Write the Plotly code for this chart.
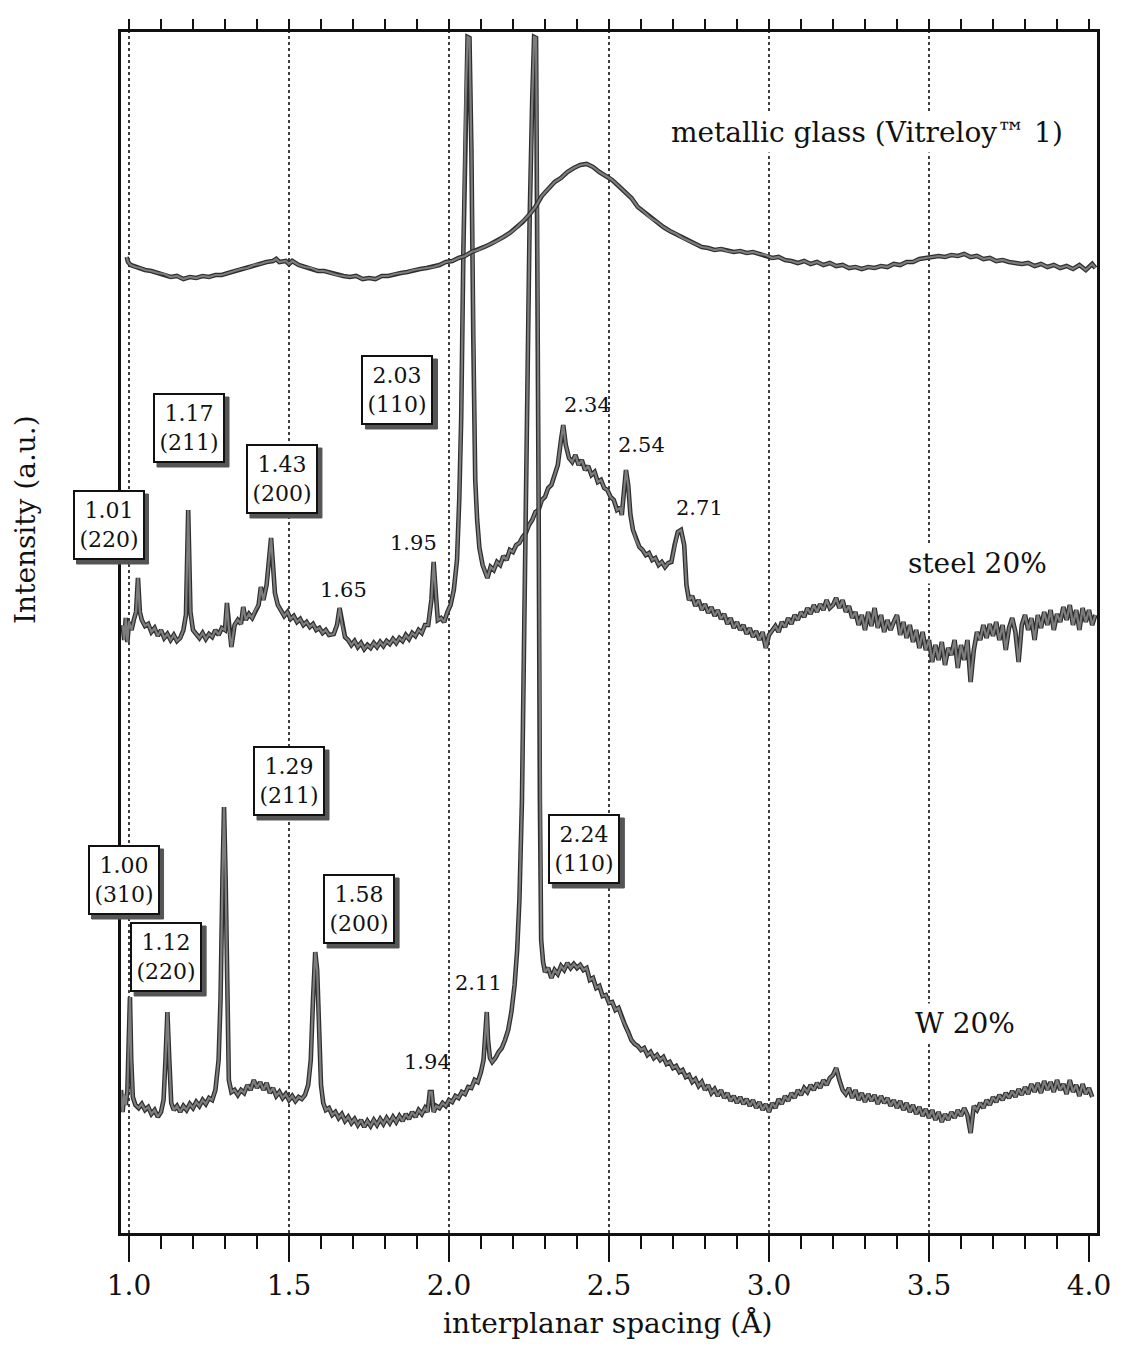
import plotly.graph_objects as go

# ---------------- data ----------------
glass_d = [0.993,0.997,1.005,1.02,1.035,1.05,1.07,1.09,1.11,1.13,1.15,1.17,1.19,1.21,1.23,1.25,1.27,1.29,1.31,1.33,
           1.35,1.37,1.39,1.41,1.43,1.45,1.46,1.47,1.49,1.50,1.51,1.53,1.55,1.57,1.59,1.61,1.63,1.65,1.67,1.69,
           1.71,1.73,1.75,1.77,1.79,1.81,1.83,1.85,1.87,1.89,1.91,1.93,1.95,1.97,1.99,2.01,2.03,2.05,2.07,2.09,
           2.11,2.13,2.15,2.17,2.19,2.21,2.23,2.25,2.27,2.29,2.31,2.33,2.35,2.37,2.39,2.41,2.43,2.45,2.47,2.49,
           2.51,2.53,2.55,2.57,2.59,2.61,2.63,2.65,2.67,2.69,2.71,2.73,2.75,2.77,2.79,2.81,2.83,2.85,2.87,2.89,
           2.91,2.93,2.95,2.97,2.99,3.01,3.03,3.05,3.07,3.09,3.11,3.13,3.15,3.17,3.19,3.21,3.23,3.25,3.27,3.29,
           3.31,3.33,3.35,3.37,3.39,3.41,3.43,3.45,3.47,3.49,3.51,3.53,3.55,3.57,3.59,3.61,3.63,3.65,3.67,3.69,
           3.71,3.73,3.75,3.77,3.79,3.81,3.83,3.85,3.87,3.89,3.91,3.93,3.95,3.97,3.99,4.01,4.02]
glass_i = [976,971,968,966,965,963,962,960,959,956,957,954,956,955,957,956,958,958,960,962,
           964,965,968,969,971,972,974,971,972,969,972,968,966,965,962,962,960,958,957,956,
           957,954,955,954,957,957,959,960,961,963,964,965,966,968,971,972,975,977,981,983,
           986,989,992,996,1000,1005,1011,1018,1026,1037,1044,1051,1055,1061,1065,1068,1069,1066,1061,1057,
           1053,1047,1041,1035,1026,1021,1015,1011,1006,1002,999,995,992,989,986,985,983,984,982,981,
           982,980,981,979,978,975,976,973,972,970,972,969,971,968,970,967,968,965,966,964,
           966,965,967,966,969,968,971,971,974,975,976,977,976,978,977,979,976,977,974,975,
           972,973,971,970,969,970,967,969,966,968,965,967,964,968,963,969,965]

steel_d = [0.980,0.985,0.990,0.995,1.000,1.008,1.015,1.022,1.028,1.034,1.040,1.050,1.060,1.070,1.080,1.090,1.100,1.110,1.120,1.130,
           1.140,1.150,1.160,1.170,1.178,1.185,1.192,1.200,1.210,1.220,1.230,1.240,1.250,1.260,1.270,1.280,1.290,1.300,1.306,1.312,
           1.320,1.330,1.340,1.350,1.357,1.365,1.375,1.385,1.395,1.405,1.412,1.420,1.430,1.438,1.444,1.450,1.456,1.465,1.475,1.485,
           1.495,1.505,1.515,1.525,1.535,1.545,1.555,1.565,1.575,1.585,1.595,1.605,1.615,1.625,1.640,1.650,1.658,1.666,1.675,1.685,
           1.695,1.705,1.715,1.725,1.735,1.745,1.755,1.765,1.775,1.785,1.795,1.805,1.815,1.825,1.835,1.845,1.855,1.865,1.875,1.885,
           1.895,1.905,1.915,1.925,1.935,1.945,1.952,1.958,1.965,1.975,1.985,1.995,2.005,2.015,2.025,2.032,2.038,2.045,2.052,2.058,
           2.064,2.070,2.076,2.082,2.088,2.095,2.105,2.112,2.120,2.130,2.140,2.150,2.160,2.170,2.180,2.190,2.200,2.210,2.220,2.230,
           2.240,2.250,2.260,2.270,2.280,2.290,2.300,2.310,2.320,2.330,2.340,2.350,2.357,2.365,2.375,2.385,2.395,2.405,2.415,2.425,
           2.435,2.445,2.455,2.465,2.475,2.485,2.495,2.505,2.515,2.525,2.535,2.540,2.547,2.553,2.560,2.567,2.575,2.585,2.595,2.605,
           2.615,2.625,2.635,2.645,2.655,2.665,2.675,2.685,2.695,2.705,2.715,2.725,2.735,2.742,2.750,2.760,2.770,2.780,2.790,2.800,
           2.810,2.820,2.830,2.840,2.850,2.860,2.870,2.880,2.890,2.900,2.910,2.920,2.930,2.940,2.950,2.960,2.970,2.980,2.990,3.000,
           3.010,3.020,3.030,3.040,3.050,3.060,3.070,3.080,3.090,3.100,3.110,3.120,3.130,3.140,3.150,3.160,3.170,3.180,3.190,3.200,
           3.210,3.220,3.230,3.240,3.250,3.260,3.270,3.280,3.290,3.300,3.310,3.320,3.330,3.340,3.350,3.360,3.370,3.380,3.390,3.400,
           3.410,3.420,3.430,3.440,3.450,3.460,3.470,3.480,3.490,3.500,3.510,3.520,3.530,3.540,3.550,3.560,3.570,3.580,3.590,3.600,
           3.610,3.620,3.630,3.640,3.650,3.660,3.670,3.680,3.690,3.700,3.710,3.720,3.730,3.740,3.750,3.760,3.770,3.780,3.790,3.800,
           3.810,3.820,3.830,3.840,3.850,3.860,3.870,3.880,3.890,3.900,3.910,3.920,3.930,3.940,3.950,3.960,3.970,3.980,3.990,4.000,
           4.010,4.020]
steel_i = [608,593,615,591,611,603,613,621,655,621,613,607,609,601,605,597,603,595,599,593,
           598,592,595,603,618,723,621,603,599,595,600,594,599,596,603,598,605,603,630,605,
           586,608,613,609,626,613,619,615,623,628,646,633,648,673,695,668,640,628,623,617,
           621,614,617,611,614,608,611,606,609,603,605,600,603,598,599,608,625,608,596,593,
           588,592,586,590,584,588,585,590,586,591,587,592,589,594,590,595,592,598,594,600,
           597,603,600,608,608,633,671,643,613,615,611,621,628,643,673,733,813,983,1133,1196,
           1195,1083,893,753,713,685,668,661,655,666,663,671,668,677,673,683,681,688,690,696,
           700,708,713,721,723,733,736,745,748,758,768,793,808,788,775,771,778,768,773,763,
           767,758,761,751,753,745,743,736,733,723,725,718,743,763,748,718,703,693,686,683,
           678,680,673,675,668,671,666,670,671,688,701,703,688,648,633,637,627,633,623,629,
           620,626,617,623,614,619,609,615,605,611,603,608,599,605,596,602,593,601,585,598,
           603,607,601,611,606,615,609,618,613,621,616,625,619,628,621,629,623,633,625,628,
           635,625,633,621,627,615,621,608,618,603,621,607,625,605,618,601,613,603,611,618,
           598,611,595,608,591,603,585,601,583,593,571,588,573,591,568,585,578,593,565,588,
           573,593,551,583,601,593,608,595,609,597,611,593,608,583,605,615,601,571,608,618,
           603,615,593,618,605,621,608,623,603,619,611,626,613,628,608,623,603,625,611,623,
           608,618]

w_d = [0.975,0.980,0.985,0.990,0.995,1.000,1.003,1.007,1.012,1.020,1.030,1.040,1.050,1.060,1.070,1.080,1.090,1.100,1.108,1.114,
       1.120,1.126,1.132,1.140,1.150,1.160,1.170,1.180,1.190,1.200,1.210,1.220,1.230,1.240,1.250,1.260,1.270,1.280,1.286,1.292,
       1.297,1.302,1.307,1.312,1.320,1.330,1.340,1.350,1.360,1.370,1.380,1.390,1.400,1.410,1.420,1.430,1.440,1.450,1.460,1.470,
       1.480,1.490,1.500,1.510,1.520,1.530,1.540,1.550,1.560,1.568,1.575,1.582,1.588,1.594,1.600,1.607,1.615,1.625,1.635,1.645,
       1.655,1.665,1.675,1.685,1.695,1.705,1.715,1.725,1.735,1.745,1.755,1.765,1.775,1.785,1.795,1.805,1.815,1.825,1.835,1.845,
       1.855,1.865,1.875,1.885,1.895,1.905,1.915,1.925,1.933,1.940,1.946,1.952,1.960,1.970,1.980,1.990,2.000,2.010,2.020,2.030,
       2.040,2.050,2.060,2.070,2.080,2.090,2.100,2.108,2.114,2.118,2.122,2.128,2.135,2.145,2.155,2.165,2.175,2.185,2.195,2.205,
       2.213,2.220,2.228,2.236,2.244,2.252,2.260,2.266,2.272,2.276,2.280,2.284,2.288,2.294,2.300,2.310,2.320,2.330,2.340,2.350,
       2.360,2.370,2.380,2.390,2.400,2.410,2.420,2.430,2.440,2.450,2.460,2.470,2.480,2.490,2.500,2.510,2.520,2.530,2.540,2.550,
       2.560,2.570,2.580,2.590,2.600,2.610,2.620,2.630,2.640,2.650,2.660,2.670,2.680,2.690,2.700,2.710,2.720,2.730,2.740,2.750,
       2.760,2.770,2.780,2.790,2.800,2.810,2.820,2.830,2.840,2.850,2.860,2.870,2.880,2.890,2.900,2.910,2.920,2.930,2.940,2.950,
       2.960,2.970,2.980,2.990,3.000,3.010,3.020,3.030,3.040,3.050,3.060,3.070,3.080,3.090,3.100,3.110,3.120,3.130,3.140,3.150,
       3.160,3.170,3.180,3.190,3.200,3.210,3.220,3.230,3.240,3.250,3.260,3.270,3.280,3.290,3.300,3.310,3.320,3.330,3.340,3.350,
       3.360,3.370,3.380,3.390,3.400,3.410,3.420,3.430,3.440,3.450,3.460,3.470,3.480,3.490,3.500,3.510,3.520,3.530,3.540,3.550,
       3.560,3.570,3.580,3.590,3.600,3.610,3.620,3.630,3.640,3.650,3.660,3.670,3.680,3.690,3.700,3.710,3.720,3.730,3.740,3.750,
       3.760,3.770,3.780,3.790,3.800,3.810,3.820,3.830,3.840,3.850,3.860,3.870,3.880,3.890,3.900,3.910,3.920,3.930,3.940,3.950,
       3.960,3.970,3.980,3.990,4.000,4.010]
w_i = [143,121,138,128,143,193,236,173,136,128,125,129,123,126,119,123,116,121,133,173,
       221,173,130,123,127,121,127,123,129,125,131,127,133,129,135,133,143,173,233,353,
       426,353,233,153,141,143,138,143,140,148,143,153,145,151,143,150,140,145,137,141,
       135,139,133,137,132,136,134,138,148,173,233,281,263,203,148,130,123,125,118,121,
       115,119,112,116,110,114,108,113,106,112,107,113,108,114,109,115,110,116,111,117,
       112,119,114,121,116,123,119,125,121,141,141,121,127,125,130,127,133,131,137,135,
       141,139,146,145,153,151,161,173,203,221,193,175,171,175,181,185,193,203,221,248,
       283,333,433,633,833,1013,1133,1196,1195,1033,733,433,293,271,261,265,255,263,259,267,
       263,270,265,269,265,268,263,265,253,255,245,247,237,238,230,231,223,225,215,208,
       201,193,189,187,183,185,178,181,175,178,173,176,169,171,165,167,161,163,156,158,
       151,154,147,151,143,148,140,144,137,143,135,140,132,137,130,136,129,134,127,133,
       125,131,123,129,121,130,125,134,129,137,132,140,135,143,138,145,141,148,143,150,
       145,153,148,155,158,165,153,143,139,145,135,143,133,140,131,139,132,138,129,137,
       130,135,127,133,125,132,123,130,121,128,119,126,117,124,115,123,113,121,111,119,
       113,121,115,123,117,125,118,100,127,123,130,125,133,128,136,131,138,133,140,135,
       142,136,144,138,146,139,149,141,150,140,152,143,151,141,153,143,149,139,153,141,
       148,137,149,139,145,136]

tick_vals = [1.0, 1.5, 2.0, 2.5, 3.0, 3.5, 4.0]
tick_text = ["1.0", "1.5", "2.0", "2.5", "3.0", "3.5", "4.0"]
grid_vals = [1.0, 1.5, 2.0, 2.5, 3.0, 3.5]

# boxed peak labels: (d, intensity, text)
box_labels = [
    (1.839, 843, "2.03<br>(110)"),
    (1.1875, 805, "1.17<br>(211)"),
    (1.478, 754, "1.43<br>(200)"),
    (0.936, 708, "1.01<br>(220)"),
    (1.500, 452, "1.29<br>(211)"),
    (0.983, 353, "1.00<br>(310)"),
    (1.116, 276, "1.12<br>(220)"),
    (1.719, 324, "1.58<br>(200)"),
    (2.423, 384, "2.24<br>(110)"),
]
plain_labels = [
    (2.434, 828, "2.34"),
    (2.603, 788, "2.54"),
    (2.784, 725, "2.71"),
    (1.8875, 690, "1.95"),
    (1.669, 643, "1.65"),
    (1.934, 171, "1.94"),
    (2.091, 250, "2.11"),
]
series_labels = [
    (3.306, 1101, "metallic glass (Vitreloy™ 1)"),
    (3.650, 670, "steel 20%"),
    (3.6125, 210, "W 20%"),
]

# ---------------- figure ----------------
FONT = "DejaVu Serif"
INK = "#111111"
XR = [0.975, 4.025]
YR = [0, 1201]

def px(d):
    return (d - XR[0]) / (XR[1] - XR[0])

def py(v):
    return (v - YR[0]) / (YR[1] - YR[0])

fig = go.Figure()

def add_series(xs, ys, xaxis="x"):
    fig.add_trace(go.Scatter(x=xs, y=ys, mode="lines", xaxis=xaxis,
                             line=dict(color="#2e2e2e", width=4.6), hoverinfo="skip", showlegend=False))
    fig.add_trace(go.Scatter(x=xs, y=ys, mode="lines", xaxis=xaxis,
                             line=dict(color="#7d7d7d", width=2.2), hoverinfo="skip", showlegend=False))

add_series(glass_d, glass_i, "x2")
add_series(steel_d, steel_i)
add_series(w_d, w_i)

for g in grid_vals:
    fig.add_shape(type="line", x0=g, x1=g, y0=0, y1=1, xref="x", yref="paper",
                  line=dict(color=INK, width=1.6, dash="dot"), layer="below")

BW, BH = 60, 58   # inner text area of the boxes (px)
PAD, BRD = 4, 2
HW = BW / 2 + PAD + BRD
HH = BH / 2 + PAD + BRD
SH = 4
for (xd, yi, t) in box_labels:
    fig.add_shape(type="rect", xref="paper", yref="paper",
                  xsizemode="pixel", ysizemode="pixel", xanchor=px(xd), yanchor=py(yi),
                  x0=-HW + SH, x1=HW + SH, y0=-HH - SH, y1=HH - SH,
                  fillcolor="#555555", line=dict(color="#555555", width=1), layer="above")
    fig.add_annotation(x=px(xd), y=py(yi), text=t, showarrow=False, xref="paper", yref="paper",
                       xanchor="center", yanchor="middle", width=BW, height=BH,
                       font=dict(family=FONT, size=22, color=INK),
                       bgcolor="white", bordercolor=INK, borderwidth=BRD, borderpad=PAD)

for (xd, yi, t) in plain_labels:
    fig.add_annotation(x=xd, y=yi, text=t, showarrow=False, xref="x", yref="y",
                       font=dict(family=FONT, size=21, color=INK))

for (xd, yi, t) in series_labels:
    fig.add_annotation(x=xd, y=yi, text=t, showarrow=False, xref="x", yref="y",
                       font=dict(family=FONT, size=28, color=INK), bgcolor="white", borderpad=3)

fig.add_annotation(x=-0.098, y=0.594, xref="paper", yref="paper", text="Intensity (a.u.)",
                   textangle=-90, showarrow=False, xanchor="center", yanchor="middle",
                   font=dict(family=FONT, size=28, color=INK))
fig.add_annotation(x=0.498, y=-0.075, xref="paper", yref="paper", text="interplanar spacing (Å)",
                   showarrow=False, xanchor="center", yanchor="middle",
                   font=dict(family=FONT, size=28, color=INK))

fig.update_layout(
    width=1122, height=1347,
    margin=dict(l=121, r=25, t=32, b=114),
    paper_bgcolor="white", plot_bgcolor="white",
    showlegend=False,
    xaxis=dict(range=XR, tickmode="array", tickvals=tick_vals, ticktext=tick_text,
               ticks="outside", ticklen=26, tickwidth=2, tickcolor=INK,
               minor=dict(tickmode="linear", tick0=1.0, dtick=0.1, ticks="outside",
                          ticklen=13, tickwidth=2, tickcolor=INK, showgrid=False),
               showline=True, linewidth=2.5, linecolor=INK, showgrid=False, zeroline=False,
               tickfont=dict(family=FONT, size=28, color=INK)),
    xaxis2=dict(range=XR, overlaying="x", side="top", anchor="y",
                tickmode="linear", tick0=1.0, dtick=0.1, ticks="outside", ticklen=10,
                tickwidth=2, tickcolor=INK, showticklabels=False,
                showline=True, linewidth=2.5, linecolor=INK, showgrid=False, zeroline=False),
    yaxis=dict(range=YR, showline=True, mirror=True, linewidth=2.5, linecolor=INK,
               showticklabels=False, ticks="", showgrid=False, zeroline=False),
)

fig.write_html("out.html")
